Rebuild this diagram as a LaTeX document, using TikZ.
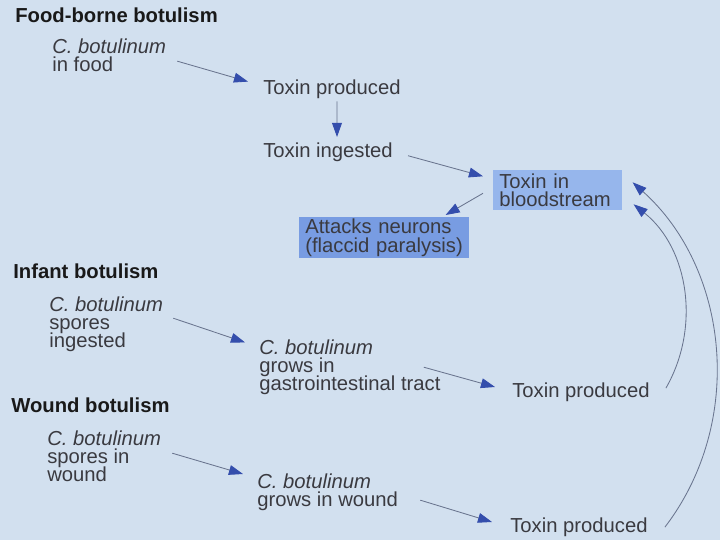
\documentclass[tikz,border=0pt]{standalone}
\usepackage{fontspec}
\setmainfont{Liberation Sans}
\usepackage{xcolor}
\usepackage{tikz}
\usetikzlibrary{arrows.meta}

\definecolor{slidebg}{RGB}{210,224,239}
\definecolor{bloodfill}{RGB}{150,182,236}
\definecolor{nervefill}{RGB}{120,156,226}
\definecolor{tipblue}{RGB}{52,78,172}
\definecolor{stemgray}{RGB}{105,116,142}
\definecolor{bodytext}{RGB}{58,58,64}

\newcommand{\slidefont}{\fontsize{14.4}{12.85}\selectfont\setlength{\lineskiplimit}{-20pt}}

\tikzset{
    txt/.style={anchor=north west, inner sep=0pt, align=left, text=bodytext, font=\slidefont},
    head/.style={txt, text=black!90, font=\slidefont\bfseries},
    box/.style={txt, inner xsep=0.15cm, inner ysep=0pt},
    arr/.style={draw=stemgray, line width=0.6pt, -{Triangle[length=10pt, width=7pt, color=tipblue]}},
}

\begin{document}
\begin{tikzpicture}[x=0.025cm, y=-0.025cm]
        \fill[slidebg] (0,0) rectangle (720,540);
        \useasboundingbox (0,0) rectangle (720,540);

        % food-borne
        \node (hfood) at (15,8)[head] {Food-borne botulism};
        \node (food) at (52,38.4)[txt] {\textit{C. botulinum}\\in food};
        \node (fprod) at (263,80)[txt] {Toxin produced};
        \node (fingest) at (263,143)[txt] {Toxin ingested};
        \node (blood) at (493,170)[box, fill=bloodfill, text width=2.925cm, minimum height=1cm] {Toxin in\\bloodstream};
        \node (attack) at (299,217)[box, fill=nervefill, text width=3.95cm, minimum height=1.025cm] {Attacks neurons\\(flaccid paralysis)};

        % infant
        \node (hinf) at (13,263.4)[head] {Infant botulism};
        \node (infspore) at (49,296.4)[txt] {\textit{C. botulinum}\\spores\\ingested};
        \node (infgrow) at (259,339.4)[txt] {\textit{C. botulinum}\\grows in\\gastrointestinal tract};
        \node (infprod) at (512,382.4)[txt] {Toxin produced};

        % wound
        \node (hwound) at (11,397.4)[head] {Wound botulism};
        \node (wspore) at (47,430.4)[txt] {\textit{C. botulinum}\\spores in\\wound};
        \node (wgrow) at (257,473.4)[txt] {\textit{C. botulinum}\\grows in wound};
        \node (wprod) at (510,517.4)[txt] {Toxin produced};

        \draw[arr] ([shift={(11,6)}]food.east) -- ([shift={(-15,1.6)}]fprod.north west);
        \draw[arr] ([shift={(5,2)}]fprod.south) -- ([shift={(9,-6)}]fingest.north);
        \draw[arr] ([shift={(15,3)}]fingest.east) -- ([shift={(-10,-14)}]blood.west);
        \draw[arr] ([shift={(-10,3)}]blood.west) -- ([shift={(-24,-2)}]attack.north east);
        \draw[arr] ([shift={(10,-6)}]infspore.east) -- ([shift={(-14,3)}]infgrow.north west);
        \draw[arr] ([shift={(-17,0)}]infgrow.east) -- ([shift={(-17,4.6)}]infprod.north west);
        \draw[arr] ([shift={(11,-3)}]wspore.east) -- ([shift={(-14,0.6)}]wgrow.north west);
        \draw[arr] ([shift={(22,8)}]wgrow.east) -- ([shift={(-18,4.6)}]wprod.north west);
        \draw[arr] ([shift={(16,-4)}]infprod.east) .. controls +(35,-61) and +(55,44) .. ([shift={(11,14)}]blood.east);
        \draw[arr] ([shift={(17,0)}]wprod.east) .. controls +(81,-106) and +(96,86) .. ([shift={(10,-8)}]blood.east);
    \end{tikzpicture}
\end{document}
